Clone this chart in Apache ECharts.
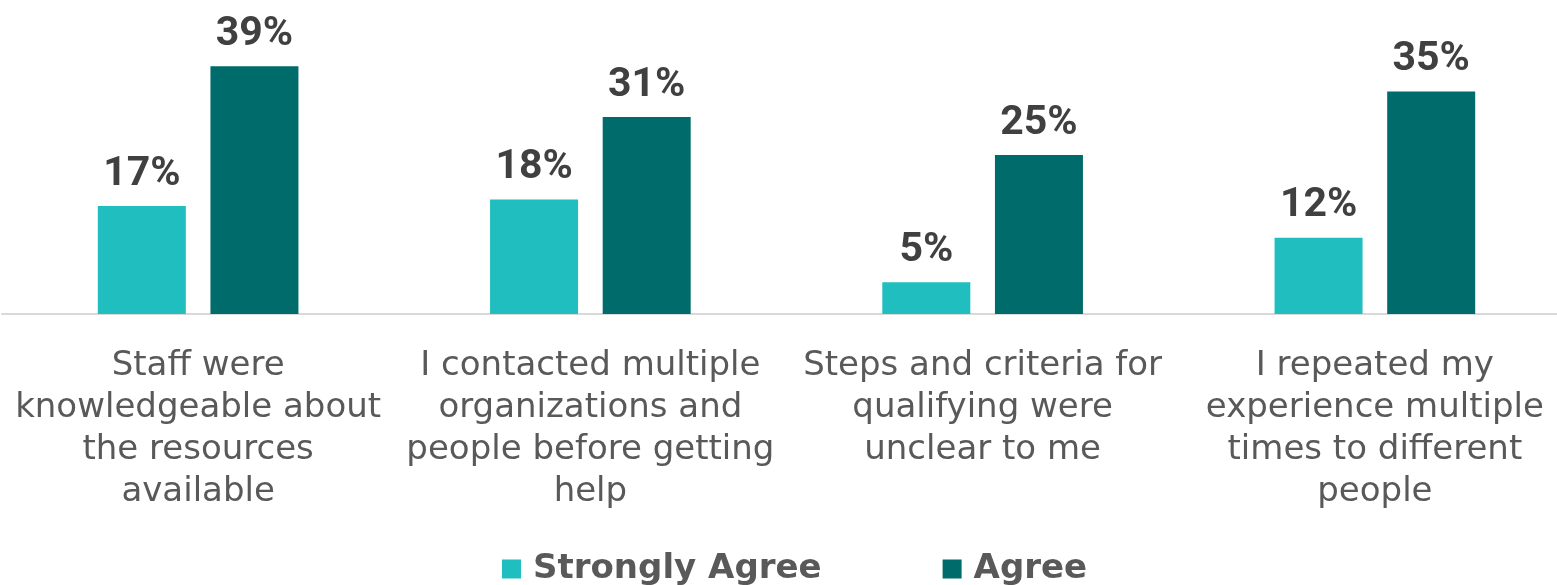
<!DOCTYPE html>
<html>
<head>
<meta charset="utf-8">
<script src="https://cdn.jsdelivr.net/npm/echarts@6/dist/echarts.min.js"></script>
<style>
html,body{margin:0;padding:0;background:#fff;}
#chart{width:1557px;height:585px;}
</style>
</head>
<body>
<div id="chart"></div>
<script>
const categories = [
  "Staff were\nknowledgeable about\nthe resources\navailable",
  "I contacted multiple\norganizations and\npeople before getting\nhelp",
  "Steps and criteria for\nqualifying were\nunclear to me",
  "I repeated my\nexperience multiple\ntimes to different\npeople"
];
const seriesNames = ["Strongly Agree", "Agree"];
const stronglyAgree = [17, 18, 5, 12];
const agree = [39, 31, 25, 35];

const chart = echarts.init(document.getElementById('chart'), null, {renderer: 'canvas'});
const labelStyle = {
  show: true,
  position: 'top',
  distance: 11,
  formatter: '{c}%',
  fontFamily: 'Roboto',
  fontWeight: 'bold',
  fontSize: 41,
  color: '#404040'
};
chart.setOption({
  animation: false,
  backgroundColor: '#ffffff',
  grid: {left: 2, right: -14, top: 28, bottom: 271, containLabel: false, outerBoundsMode: 'none'},
  xAxis: {
    type: 'category',
    data: categories,
    axisLine: {show: true, lineStyle: {color: '#d9d9d9', width: 2}},
    axisTick: {show: false},
    axisLabel: {
      interval: 0,
      margin: 31,
      fontFamily: 'DejaVu Sans',
      fontSize: 34,
      lineHeight: 42,
      color: '#595959',
      align: 'center'
    }
  },
  yAxis: {
    type: 'value',
    min: 0,
    max: 45,
    show: false,
    splitLine: {show: false}
  },
  legend: {
    data: seriesNames,
    top: 552,
    left: 502,
    padding: 0,
    itemWidth: 19,
    itemHeight: 19,
    itemGap: 121,
    icon: 'rect',
    textStyle: {
      fontFamily: 'DejaVu Sans',
      fontWeight: 'bold',
      fontSize: 34,
      color: '#595959',
      padding: [0, 0, 0, 7]
    }
  },
  series: [
    {
      name: seriesNames[0],
      type: 'bar',
      data: stronglyAgree,
      barWidth: 88,
      barGap: '28%',
      itemStyle: {color: '#20BEBE'},
      label: labelStyle
    },
    {
      name: seriesNames[1],
      type: 'bar',
      data: agree,
      barWidth: 88,
      barGap: '28%',
      itemStyle: {color: '#006B6B'},
      label: labelStyle
    }
  ]
});
</script>
</body>
</html>
